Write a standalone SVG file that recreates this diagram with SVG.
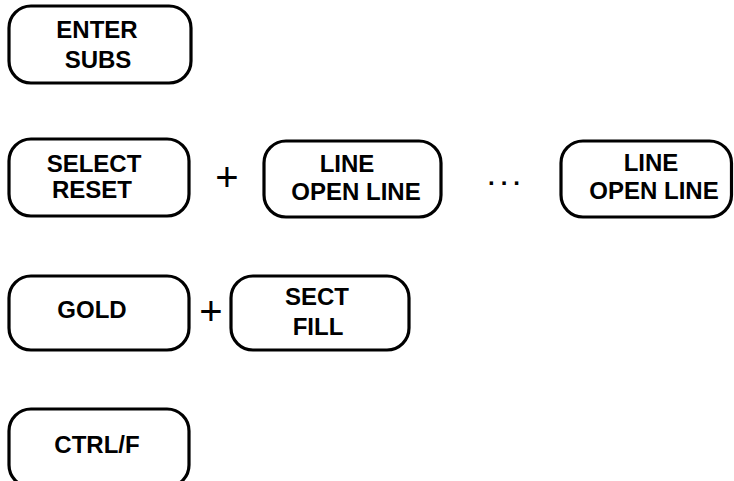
<svg xmlns="http://www.w3.org/2000/svg" width="734" height="481" viewBox="0 0 734 481">
<style>
.key{fill:none;stroke:#000;stroke-width:3.2}
.lbl{font-family:"Liberation Sans",Arial,sans-serif;font-weight:bold;font-size:24px;fill:#000;text-anchor:middle}
.op{font-family:"Liberation Sans",Arial,sans-serif;font-size:40px;fill:#000;text-anchor:middle}
</style>
<rect width="734" height="481" fill="#fff"/>
<g id="enter-subs">
<rect class="key" x="9" y="6" width="182" height="77" rx="22"/>
<text class="lbl" x="97" y="38">ENTER</text>
<text class="lbl" x="98" y="68">SUBS</text>
</g>
<g id="select-reset">
<rect class="key" x="9" y="139" width="180" height="77" rx="22"/>
<text class="lbl" x="94" y="172">SELECT</text>
<text class="lbl" x="92" y="198">RESET</text>
</g>
<g id="line-open-line-1">
<rect class="key" x="264" y="141" width="177" height="76" rx="22"/>
<text class="lbl" x="347" y="172">LINE</text>
<text class="lbl" x="356" y="200">OPEN LINE</text>
</g>
<g id="line-open-line-2">
<rect class="key" x="561" y="141" width="170.5" height="76" rx="22"/>
<text class="lbl" x="651" y="171">LINE</text>
<text class="lbl" x="654" y="199">OPEN LINE</text>
</g>
<g id="gold">
<rect class="key" x="9" y="276" width="180" height="74" rx="22"/>
<text class="lbl" x="92" y="318">GOLD</text>
</g>
<g id="sect-fill">
<rect class="key" x="231" y="276" width="178" height="74" rx="22"/>
<text class="lbl" x="317" y="305">SECT</text>
<text class="lbl" x="318" y="335">FILL</text>
</g>
<g id="ctrl-f">
<rect class="key" x="9" y="409" width="180" height="78" rx="22"/>
<text class="lbl" x="97" y="453">CTRL/F</text>
</g>
<g id="connectors">
<text class="op" x="227" y="191">+</text>
<text class="op" x="211" y="325">+</text>
<text class="lbl" x="507" y="185" font-size="26" letter-spacing="6">...</text>
</g>
</svg>
